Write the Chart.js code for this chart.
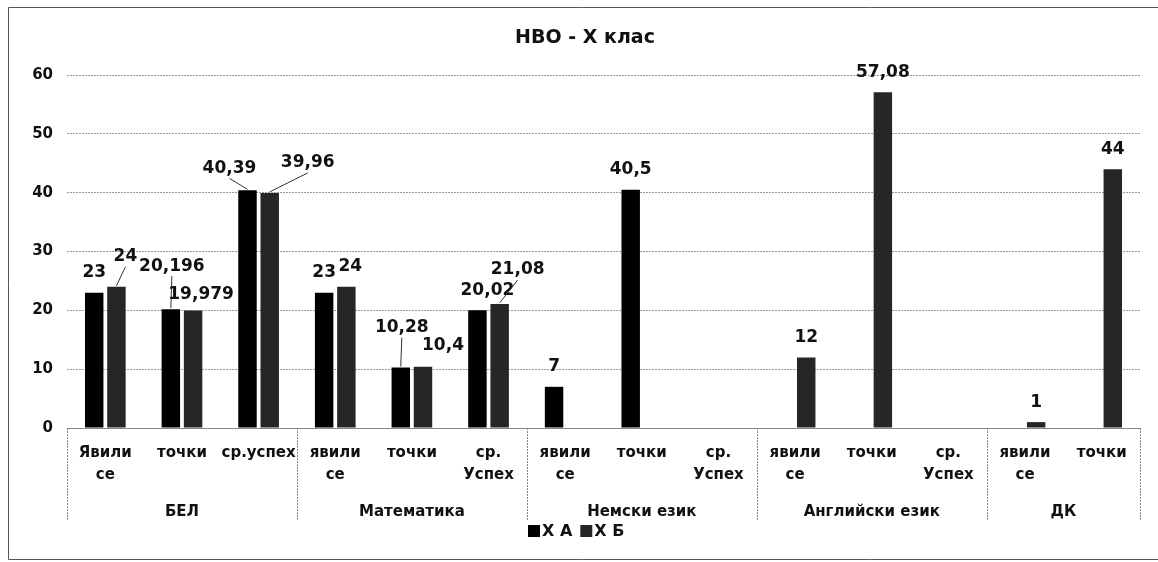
<!DOCTYPE html>
<html>
<head>
<meta charset="utf-8">
<script src="https://cdn.jsdelivr.net/npm/chart.js@4.4.0/dist/chart.umd.min.js"></script>
<style>
  body { margin: 0; background: #fff; }
  #wrap { width: 1158px; height: 562px; }
</style>
</head>
<body>
<div id="wrap"><canvas id="myChart"></canvas></div>
<script>
// data
var chartTitle = "НВО - Х клас";
var groups = ["БЕЛ", "Математика", "Немски език", "Английски език", "ДК"];
var groupSizes = [3, 3, 3, 3, 2];
var categories = [
    ["Явили", "се"], "точки", "ср.успех",
    ["явили", "се"], "точки", ["ср.", "Успех"],
    ["явили", "се"], "точки", ["ср.", "Успех"],
    ["явили", "се"], "точки", ["ср.", "Успех"],
    ["явили", "се"], "точки"
];
var seriesNames = ["Х А", "Х Б"];
var classA = [23, 20.196, 40.39, 23, 10.28, 20.02, 7, 40.5, null, null, null, null, null, null];
var classB = [24, 19.979, 39.96, 24, 10.4, 21.08, null, null, null, 12, 57.08, null, 1, 44];
var yMin = 0, yMax = 60, yStep = 10;

// label placement (dx, dy from bar top, leader line)
var labelShift = [
    { 1: [1, -43, true], 2: [-18, -22, true], 4: [1, -40, true], 5: [10, -20] },
    { 0: [9, -30, true], 1: [8, -16], 2: [38, -30, true], 3: [4, -20], 4: [20, -21], 5: [18, -34, true] }
];
var colors = ['#000000', '#262626'];
var FONT = "'DejaVu Sans', sans-serif";

var extras = {
    id: 'extras',
    beforeDraw: function (chart) {
        var ctx = chart.ctx;
        ctx.save();
        ctx.strokeStyle = '#555';
        ctx.lineWidth = 1;
        ctx.beginPath();
        ctx.moveTo(1158, 7.5); ctx.lineTo(8.5, 7.5); ctx.lineTo(8.5, 559.5); ctx.lineTo(1158, 559.5);
        ctx.stroke();
        ctx.restore();
    },
    afterDraw: function (chart) {
        var ctx = chart.ctx, x = chart.scales.x, area = chart.chartArea;
        ctx.save();
        // title
        ctx.fillStyle = '#111';
        ctx.font = "bold 19px " + FONT;
        ctx.textAlign = 'center';
        ctx.textBaseline = 'middle';
        ctx.fillText(chartTitle, 585, 38);

        // group separators and names
        function edge(i) {
            if (i <= 0) return area.left;
            if (i >= categories.length) return area.right;
            return (x.getPixelForValue(i - 1) + x.getPixelForValue(i)) / 2;
        }
        ctx.strokeStyle = '#888';
        ctx.setLineDash([2, 1]);
        ctx.font = "bold 15px " + FONT;
        var start = 0;
        for (var g = 0; g <= groups.length; g++) {
            var px = Math.round(edge(start)) + 0.5;
            ctx.beginPath();
            ctx.moveTo(px, area.bottom);
            ctx.lineTo(px, area.bottom + 92);
            ctx.stroke();
            if (g < groups.length) {
                var mid = (edge(start) + edge(start + groupSizes[g])) / 2;
                ctx.fillText(groups[g], mid, 512);
                start += groupSizes[g];
            }
        }
        ctx.setLineDash([]);

        // value labels
        ctx.font = "bold 17px " + FONT;
        [classA, classB].forEach(function (vals, d) {
            var meta = chart.getDatasetMeta(d);
            vals.forEach(function (v, i) {
                if (v === null) return;
                var bar = meta.data[i];
                var s = labelShift[d][i] || [0, -20];
                var lx = bar.x + s[0], ly = bar.y + s[1];
                if (s[2]) {
                    ctx.strokeStyle = '#333';
                    ctx.lineWidth = 1;
                    ctx.beginPath();
                    ctx.moveTo(bar.x, bar.y - 1);
                    ctx.lineTo(lx, ly + 10);
                    ctx.stroke();
                }
                ctx.fillText(String(v).replace('.', ','), lx, ly);
            });
        });

        // legend
        ctx.font = "bold 16px " + FONT;
        ctx.textAlign = 'left';
        var lx0 = 528;
        seriesNames.forEach(function (name, d) {
            ctx.fillStyle = colors[d];
            ctx.fillRect(lx0, 525, 12, 12);
            ctx.fillStyle = '#111';
            ctx.fillText(name, lx0 + 14, 532);
            lx0 += 14 + ctx.measureText(name).width + 8;
        });
        ctx.restore();
    }
};

var ctx = document.getElementById('myChart').getContext('2d');
var chart = new Chart(ctx, {
    type: 'bar',
    data: {
        labels: categories,
        datasets: [{
            label: seriesNames[0],
            data: classA,
            backgroundColor: colors[0],
            categoryPercentage: 0.58,
            barPercentage: 0.83
        }, {
            label: seriesNames[1],
            data: classB,
            backgroundColor: colors[1],
            categoryPercentage: 0.58,
            barPercentage: 0.83
        }]
    },
    options: {
        responsive: true,
        maintainAspectRatio: false,
        animation: false,
        layout: { padding: { top: 75, right: 18, bottom: 0, left: 0 } },
        plugins: {
            legend: { display: false },
            tooltip: { enabled: false },
            title: { display: false }
        },
        scales: {
            x: {
                grid: { display: false, drawTicks: false },
                border: { display: true, color: '#888' },
                ticks: {
                    autoSkip: false,
                    maxRotation: 0,
                    padding: 14,
                    color: '#111',
                    font: { family: FONT, size: 15, weight: 'bold', lineHeight: 1.47 }
                },
                afterFit: function (scale) { scale.height = 134; }
            },
            y: {
                min: yMin,
                max: yMax,
                grid: { color: '#999', drawTicks: false },
                border: { display: false, dash: [2, 1] },
                ticks: {
                    stepSize: yStep,
                    padding: 14,
                    color: '#111',
                    font: { family: FONT, size: 15, weight: 'bold' }
                },
                afterFit: function (scale) { scale.width = 67; }
            }
        }
    },
    plugins: [extras]
});
</script>
</body>
</html>
